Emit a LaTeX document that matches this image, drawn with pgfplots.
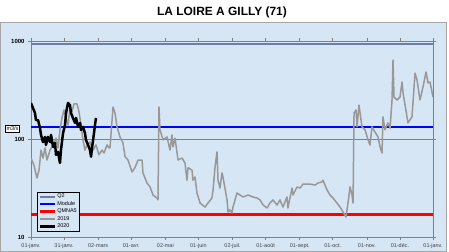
\documentclass[border=0pt]{standalone}
\usepackage{fontspec}
\setmainfont{Liberation Sans}
\usepackage{pgfplots}
\pgfplotsset{compat=1.18}
\definecolor{bgblue}{RGB}{214,230,245}
\definecolor{qtwo}{RGB}{112,124,168}
\definecolor{axgray}{RGB}{128,128,128}
\definecolor{sergray}{RGB}{152,152,152}
\begin{document}
\begin{tikzpicture}
\path (0bp,0bp) rectangle (449bp,252bp);
\fill[bgblue, draw=axgray!70] (0.5bp,0.5bp) rectangle (446bp,230bp);
\node[font=\bfseries\fontsize{12}{14}\selectfont] at (222bp,240bp) {LA LOIRE A GILLY (71)};
\begin{axis}[
  at={(31bp,15bp)}, anchor=south west, scale only axis,
  width=402bp, height=196bp,
  ymode=log, log basis y=10,
  xmin=0, xmax=365, ymin=10, ymax=1000,
  axis line style={axgray, line width=0.8bp},
  ytick={10,100,1000}, yticklabels={10,100,1000},
  yminorticks=false,
  ymajorgrids, grid style={axgray, line width=0.7bp},
  xtick={0,30,61,91,122,152,183,213,244,274,305,335,365},
  xticklabels={01-janv.,31-janv.,02-mars,01-avr.,02-mai,01-juin,02-juil.,01-août,01-sept.,01-oct.,01-nov.,01-déc.,01-janv.},
  tick align=outside, major tick length=3bp,
  tick style={axgray, line width=0.6bp},
  xticklabel style={font=\fontsize{5.5}{6}\selectfont, text=black!75},
  yticklabel style={font=\bfseries\fontsize{6}{7}\selectfont},
  legend style={at={(0.016,0.028)}, anchor=south west, draw=black, fill=bgblue,
    font=\fontsize{5.5}{6}\selectfont, inner sep=1.5bp, row sep=0.9bp, line width=0.5bp,
    nodes={inner sep=0.6bp}},
  legend cell align=left,
  legend image code/.code={\draw[#1] (0bp,0bp) -- (15bp,0bp);},
]
\addplot[qtwo, line width=2bp] coordinates {(0,925) (365,925)};
\addlegendentry{Q2}
\addplot[blue, line width=2bp] coordinates {(0,134) (365,134)};
\addlegendentry{Module}
\addplot[red, line width=2.5bp] coordinates {(0,17) (365,17)};
\addlegendentry{QMNA5}
\addplot[sergray, line width=1.5bp, line join=round] table {
0 64
2.7 54
5.4 40
7.3 48
9.1 77
10.9 64
12.7 81
14.5 61
17.3 77
20.0 87
22.7 102
24.5 81
26.3 124
28.1 164
30.0 198
31.8 164
33.6 139
35.4 207
37.2 189
39.0 228
41.8 228
43.6 189
45.4 139
47.2 98
49.0 77
50.8 87
53.6 93
56.3 77
59.0 87
61.7 69
64.5 77
66.3 72
69.0 87
70.8 81
71.7 81
74.5 212
76.3 184
78.1 133
80.8 105
83.5 91
85.4 66
88.1 61
91.7 46
94.4 51
97.2 61
100.8 61
101.7 45
105.3 35.6
108.1 32.4
110.8 26.8
114.4 25
115.3 23.9
116.2 212
117.1 124
119.9 98
123.5 105
126.2 77
128.0 110
128.9 83
130.8 102
133.5 61
137.1 64
139.8 57
141.6 38
142.6 51
146.2 48
147.1 38
148.9 41
150.7 28.1
153.5 22.2
158.0 20.2
160.7 22.2
164.3 25
165.3 30.2
167.1 52
168.9 74
169.8 38
171.6 31.6
173.4 45
174.3 41
178.0 23.9
178.9 18
180.7 18.9
182.5 17.6
183.4 20.2
187.0 28.1
189.8 26.8
192.5 25.6
197.0 26.8
201.6 25.6
205.2 25
207.9 23.9
210.7 21.2
214.3 19.8
217.0 22.2
219.7 23.9
223.4 21.2
226.1 23.9
228.8 20.2
232.4 25.6
233.3 19.8
237.0 31.6
237.9 26.8
241.5 32.4
244.3 31.6
247.0 34.7
253.3 34.7
257.9 33.9
260.6 35.6
264.2 36.4
265.1 38
268.8 30.2
271.5 26.8
274.2 25
277.8 22.2
280.6 20.2
283.3 18
286.0 16
287.8 22.2
289.7 32.4
291.5 26.8
292.4 22.2
293.3 184
295.1 198
296.0 133
297.8 222
300.5 133
303.3 124
306.0 98
307.8 87
309.6 133
312.3 118
315.1 105
316.9 83
318.7 72
319.6 168
321.4 124
324.1 146
326.0 129
327.8 250
328.7 640
329.6 268
332.3 250
335.0 268
336.9 382
337.8 295
341.4 168
342.3 146
345.9 168
348.7 471
350.5 400
353.2 250
355.9 339
358.7 483
360.5 373
362.3 382
365.0 268
};
\addlegendentry{2019}
\addplot[black, line width=2.5bp, line join=round] table {
0 233
1.8 207
3.6 184
4.5 156
6.4 156
8.2 129
9.1 110
10.9 93
12.7 105
13.6 87
15.4 105
17.3 93
18.2 110
20.0 83
21.8 91
22.7 69
24.5 74
26.3 57
27.2 77
29.1 115
30.9 139
31.8 184
33.6 233
35.4 222
36.3 184
38.1 164
40.0 146
40.9 164
42.7 133
44.5 146
45.4 124
47.2 133
49.0 115
49.9 98
51.8 87
53.6 77
54.5 66
55.4 81
57.2 115
58.1 139
59.0 164
};
\addlegendentry{2020}
\end{axis}
\node[draw=black, fill=white, inner sep=1.2bp, font=\fontsize{5.5}{6}\selectfont] at (12.5bp,123.5bp) {m3/s};
\end{tikzpicture}
\end{document}
